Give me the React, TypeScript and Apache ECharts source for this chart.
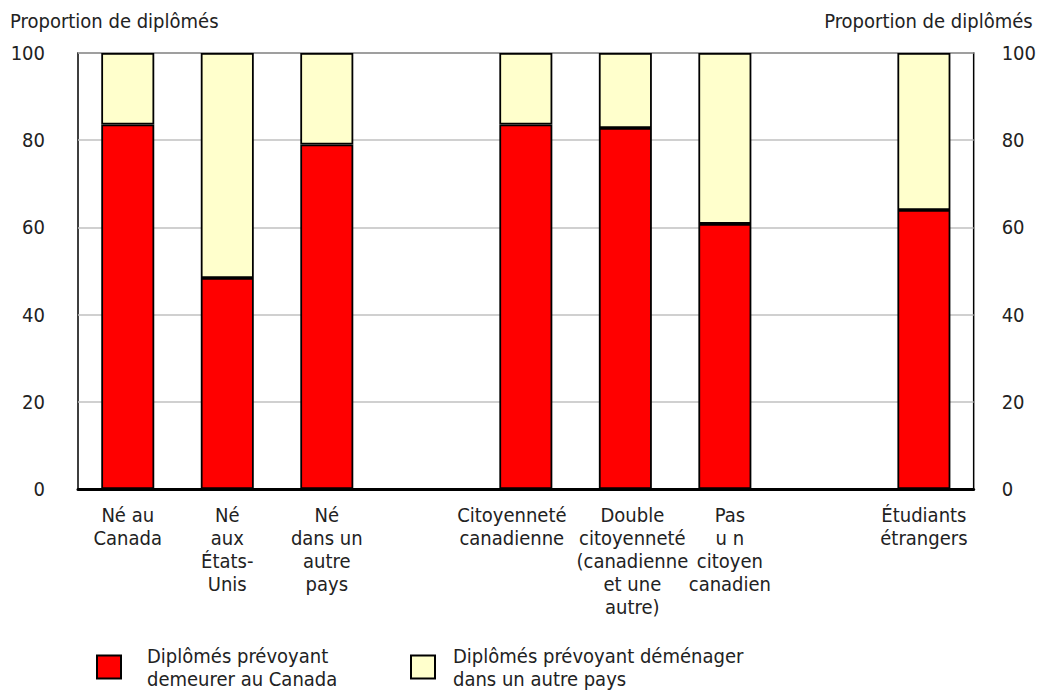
import React, { useEffect, useRef } from "react";
import * as echarts from "echarts";

const categories = [
  "Né au\nCanada",
  "Né\naux\nÉtats-\nUnis",
  "Né\ndans un\nautre\npays",
  "",
  "Citoyenneté\ncanadienne",
  "Double\ncitoyenneté\n(canadienne\net une\nautre)",
  "Pas\nu n\ncitoyen\ncanadien",
  "",
  "Étudiants\nétrangers",
];
const stayValues: (number | null)[] = [83.6, 48.4, 79.0, null, 83.6, 82.8, 60.8, null, 64.0];
const leaveValues: (number | null)[] = [16.4, 51.6, 21.0, null, 16.4, 17.2, 39.2, null, 36.0];
const yTicks = [0, 20, 40, 60, 80, 100];
const seriesNames = ["Diplômés prévoyant\ndemeurer au Canada", "Diplômés prévoyant déménager\ndans un autre pays"];
const axisTitle = "Proportion de diplômés";

const FONT = "'Liberation Sans Narrow', 'DejaVu Sans Condensed', sans-serif";
const TXT = "#222";
const FS = 20;

export default function App() {
  const ref = useRef<HTMLDivElement>(null);
  useEffect(() => {
    document.body.style.margin = "0";
    if (!ref.current) return;
    const chart = echarts.init(ref.current, null, { renderer: "svg" });
    const yAxisBase = {
      type: "value",
      min: 0,
      max: 100,
      interval: 20,
      axisLine: { show: false },
      axisTick: { show: false },
      splitLine: { show: true, lineStyle: { color: "#c0c0c0", width: 1.5 } },
    };
    const legendBase = {
      top: 639,
      orient: "horizontal",
      icon: "rect",
      itemWidth: 24,
      itemHeight: 23,
      selectedMode: false,
      itemStyle: { borderColor: "#000", borderWidth: 2 },
    };
    const labelBase = { fontFamily: FONT, fontSize: FS, lineHeight: 23, color: TXT };
    const rich: Record<string, any> = {};
    categories.forEach((_, i) => {
      const shift = i === 4 ? -14 : i === 5 ? 7 : i === 6 ? 5 : 0;
      rich["s" + i] = {
        ...labelBase,
        padding: shift < 0 ? [0, -2 * shift, 0, 0] : [0, 0, 0, 2 * shift],
      };
    });
    chart.setOption({
      animation: false,
      textStyle: { fontFamily: FONT },
      grid: {
        left: 78,
        right: 64,
        top: 53,
        bottom: 203,
        show: true,
        borderColor: "#000",
        borderWidth: 1.5,
        backgroundColor: "transparent",
      },
      legend: [
        {
          ...legendBase,
          data: [seriesNames[0]],
          left: 91,
          textStyle: { fontFamily: FONT, fontSize: FS, color: TXT, lineHeight: 23, padding: [0, 0, 0, 21] },
        },
        {
          ...legendBase,
          data: [seriesNames[1]],
          left: 405,
          textStyle: { fontFamily: FONT, fontSize: FS, color: TXT, lineHeight: 23, padding: [0, 0, 0, 13] },
        },
      ],
      xAxis: {
        type: "category",
        data: categories,
        axisLine: { show: true, lineStyle: { color: "#000", width: 3 } },
        axisTick: { show: false },
        axisLabel: {
          interval: 0,
          ...labelBase,
          margin: 14,
          align: "center",
          formatter: (value: string, idx: number) =>
            value === "" ? "" : value.split("\n").map((l) => `{s${idx}|${l}}`).join("\n"),
          rich,
        },
      },
      yAxis: [
        {
          ...yAxisBase,
          position: "left",
          name: axisTitle,
          nameLocation: "end",
          nameGap: 22,
          nameTextStyle: { fontFamily: FONT, fontSize: FS, color: TXT, align: "left", padding: [0, 0, 0, -68] },
          axisLabel: { fontFamily: FONT, fontSize: FS, color: TXT, margin: 33, customValues: yTicks },
        },
        {
          ...yAxisBase,
          position: "right",
          splitLine: { show: false },
          name: axisTitle,
          nameLocation: "end",
          nameGap: 22,
          nameTextStyle: { fontFamily: FONT, fontSize: FS, color: TXT, align: "right", padding: [0, -59, 0, 0] },
          axisLabel: { fontFamily: FONT, fontSize: FS, color: TXT, margin: 28 },
        },
      ],
      series: [
        {
          name: seriesNames[0],
          type: "bar",
          stack: "total",
          data: stayValues,
          barWidth: 53,
          itemStyle: { color: "#ff0000", borderColor: "#000", borderWidth: 1.8 },
        },
        {
          name: seriesNames[1],
          type: "bar",
          stack: "total",
          data: leaveValues,
          barWidth: 53,
          itemStyle: { color: "#ffffcc", borderColor: "#000", borderWidth: 1.8 },
        },
      ],
    });
    return () => chart.dispose();
  }, []);
  return <div ref={ref} style={{ width: 1039, height: 692 }} />;
}
